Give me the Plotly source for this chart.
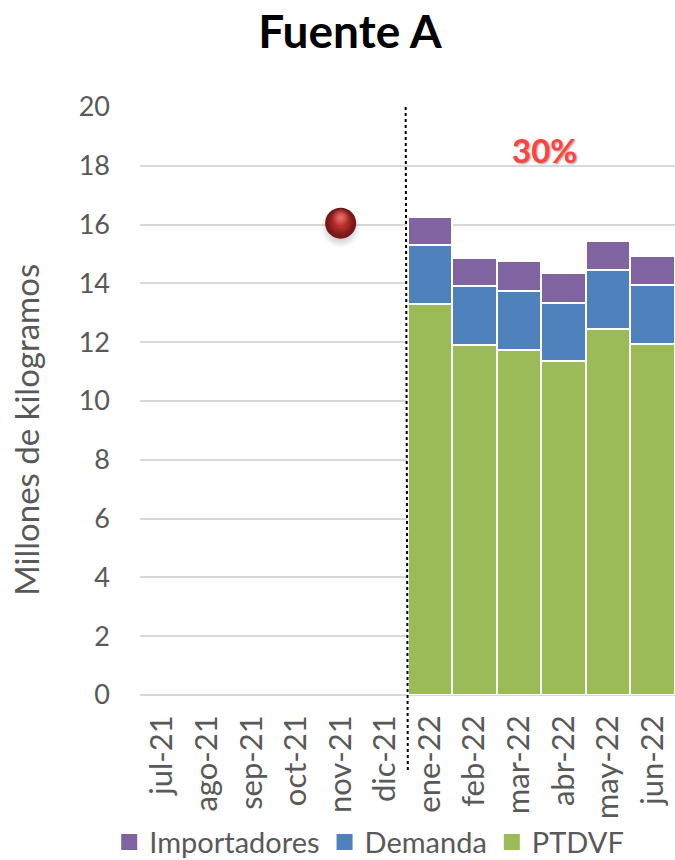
import plotly.graph_objects as go

months = ["jul-21", "ago-21", "sep-21", "oct-21", "nov-21", "dic-21",
          "ene-22", "feb-22", "mar-22", "abr-22", "may-22", "jun-22"]
ptdvf = [None, None, None, None, None, None, 13.3, 11.9, 11.75, 11.35, 12.45, 11.95]
demanda = [None, None, None, None, None, None, 2.0, 2.0, 2.0, 2.0, 2.0, 2.0]
importadores = [None, None, None, None, None, None, 0.95, 0.95, 1.0, 1.0, 1.0, 0.97]
ball_month = ["nov-21"]
ball_value = [16.05]
y_ticks = list(range(0, 21, 2))

FONT = "Lato, Carlito, sans-serif"
GRAY = "#595959"
series = [("PTDVF", ptdvf, "#9BBB59"),
          ("Demanda", demanda, "#4F81BD"),
          ("Importadores", importadores, "#8064A2")]

fig = go.Figure()
for name, vals, col in series:
    fig.add_trace(go.Bar(x=months, y=vals, name=name, showlegend=False,
                         marker=dict(color=col, line=dict(color="white", width=2))))
for name, vals, col in series:
    fig.add_trace(go.Scatter(x=[months[0]], y=[None], name=name, mode="markers",
                             marker=dict(symbol="square", size=16, color=col, line=dict(width=0))))

def ball_layer(dy, size, center, edge):
    fig.add_trace(go.Scatter(x=ball_month, y=[v + dy for v in ball_value], mode="markers",
                             showlegend=False, hoverinfo="skip",
                             marker=dict(size=size, color=edge, line=dict(width=0),
                                         gradient=dict(type="radial", color=center))))

ball_layer(-0.16, 40, "rgba(70,70,70,0.55)", "rgba(70,70,70,0)")
ball_layer(0, 31, "#B52E2C", "#6E1616")
ball_layer(0.08, 25, "rgba(205,55,50,0.95)", "rgba(205,55,50,0)")
ball_layer(0.2, 17, "rgba(245,135,130,0.8)", "rgba(245,135,130,0)")

fig.add_shape(type="line", xref="x domain", yref="paper",
              x0=0.4965, x1=0.5006, y0=1.0, y1=-0.131,
              line=dict(color="black", width=2, dash="dot"))

fig.add_annotation(text="<b>30%</b>", xref="paper", yref="y", x=0.757, y=18.55, showarrow=False,
                   xanchor="center",
                   font=dict(family=FONT, size=33, color="#FF4343", shadow="1px 1px 2px #999"))
fig.add_annotation(text="Millones de kilogramos", xref="paper", yref="paper", x=-0.213, y=0.451,
                   xanchor="center", yanchor="middle", textangle=-90, showarrow=False,
                   font=dict(family=FONT, size=33, color=GRAY))

fig.update_layout(
    width=675, height=860, barmode="stack", bargap=0,
    margin=dict(l=140, r=0, t=107, b=165),
    paper_bgcolor="white", plot_bgcolor="white",
    font=dict(family=FONT, color=GRAY, size=27),
    title=dict(text="<b>Fuente A</b>", x=0.5185, xanchor="center", y=0.9628, yanchor="middle",
               font=dict(family=FONT, size=46, color="black")),
    legend=dict(orientation="h", traceorder="reversed", xref="container", yref="container",
                x=0.547, xanchor="center", y=0.0505, yanchor="top", bgcolor="rgba(0,0,0,0)",
                font=dict(size=29, color=GRAY), itemwidth=30, tracegroupgap=0),
    xaxis=dict(type="category", categoryorder="array", categoryarray=months,
               range=[-0.5, 11.5], tickangle=-90, showgrid=False, ticks="", showline=False,
               tickfont=dict(size=31, color=GRAY), ticklabelstandoff=13, automargin=False),
    yaxis=dict(range=[0, 20], tickvals=y_ticks, gridcolor="#D9D9D9", gridwidth=2,
               zeroline=True, zerolinecolor="#D9D9D9", zerolinewidth=2, ticks="",
               tickfont=dict(size=27, color=GRAY), ticklabelstandoff=29, automargin=False),
)

fig.write_html("out.html", config={"displayModeBar": False},
               post_script="document.body.style.margin='0';document.documentElement.style.overflow='hidden';")
